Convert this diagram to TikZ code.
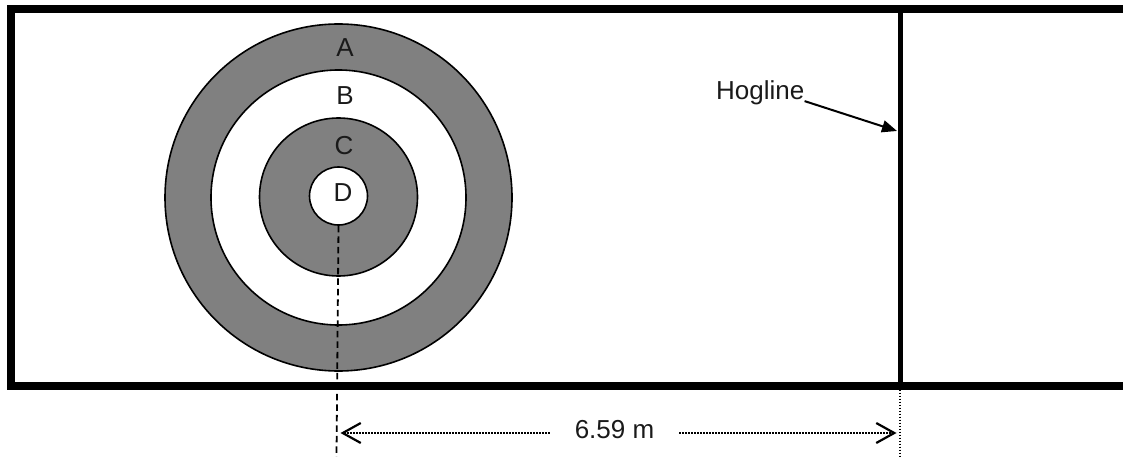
\documentclass[tikz,border=0pt]{standalone}
\usepackage{fontspec}
\setmainfont{Liberation Sans}
\usetikzlibrary{arrows.meta}
\definecolor{ringGray}{HTML}{808080}
\definecolor{textGray}{HTML}{1A1A1A}

\begin{document}
\begin{tikzpicture}[x=1pt,y=-1pt,
        ring/.style={circle,draw,line width=1.6pt,inner sep=0pt},
        ringText/.style={font=\fontsize{26}{30}\selectfont, text=textGray, inner sep=0pt},
        measure/.style={line width=1.3pt, dash pattern=on 1.3pt off 1.7pt}]
                \useasboundingbox (0,0) rectangle (1123,457);

                % sheet and hogline
                \draw[line width=8pt, miter limit=10] (1123,9) -- (11,9) -- (11,385.5) -- (1123,385.5);
                \coordinate (hogTop) at (900,9);
                \coordinate (hogBot) at (900,385.5);
                \draw[line width=5pt] (hogTop) -- (hogBot);

                % house
                \node[ring, fill=ringGray, minimum size=347pt] (A) at (338.5,197.5) {};
                \node[ring, fill=white, minimum size=255pt] (B) at (338.5,197.5) {};
                \node[ring, fill=ringGray, minimum size=158pt] (C) at (338.5,197) {};
                \node[ring, fill=white, minimum size=58pt] (D) at (338.5,196) {};

                \node[ringText] (labA) at (345,48) {A};
                \node[ringText] (labB) at (345,96) {B};
                \node[ringText] (labC) at (344,146) {C};
                \node[ringText] (labD) at (343,193) {D};

                % hogline label
                \node[ringText, anchor=base west] (hogText) at (716,99.5) {Hogline};
                \coordinate (hogTip) at (897,131);
                \draw[line width=2pt, -{Triangle[length=15pt,width=12pt]}] ([yshift=4pt]hogText.south east) -- (hogTip);

                % distance
                \coordinate (tee) at (336.5,457);
                \draw[line width=1.8pt, dash pattern=on 6.5pt off 4pt] (D.south) -- (tee);
                \coordinate (hogEnd) at (900,457);
                \draw[measure] (900,389.5) -- (hogEnd);

                \coordinate (dimL) at (340.5,433);
                \coordinate (dimR) at (896.5,433);
                \node[ringText, inner xsep=25pt] (dimText) at (614.5,429.5) {6.59 m};
                \draw[measure, -{Straight Barb[length=18pt,width=20pt,line width=2.2pt]}] (dimL -| dimText.west) -- (dimL);
                \draw[measure, -{Straight Barb[length=18pt,width=20pt,line width=2.2pt]}] (dimR -| dimText.east) -- (dimR);
\end{tikzpicture}
\end{document}
